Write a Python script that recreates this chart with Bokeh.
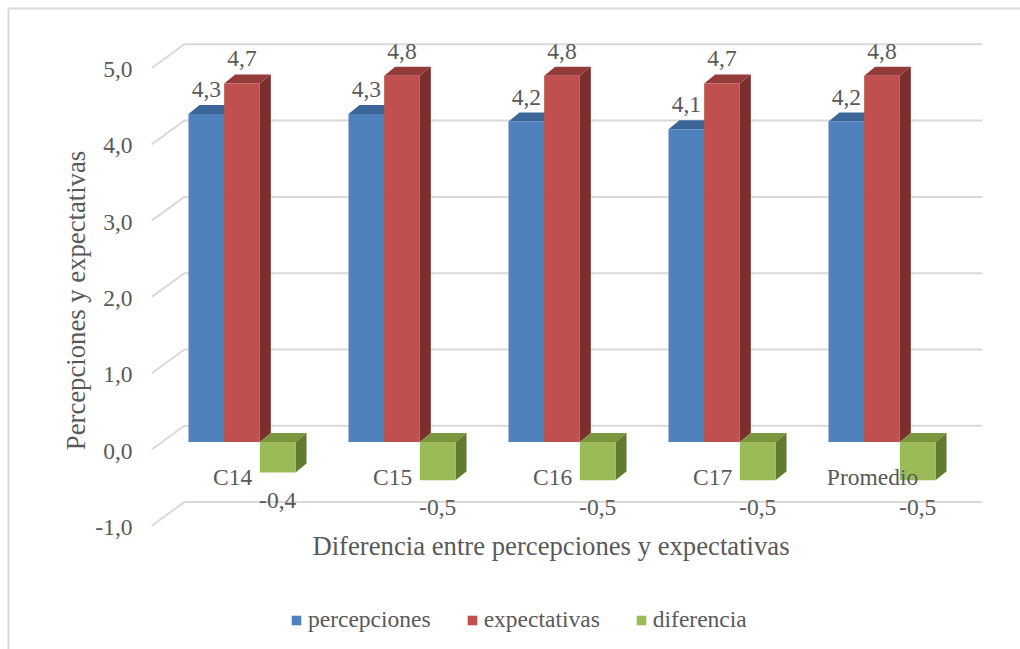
from bokeh.plotting import figure
from bokeh.models import Range1d, ColumnDataSource, Legend, LegendItem
from bokeh.core.properties import value
from bokeh.embed import file_html
from bokeh.resources import INLINE

# ---- data -------------------------------------------------------------
categories = ["C14", "C15", "C16", "C17", "Promedio"]
percepciones = [4.3, 4.3, 4.2, 4.1, 4.2]
expectativas = [4.7, 4.8, 4.8, 4.7, 4.8]
diferencia = [-0.4, -0.5, -0.5, -0.5, -0.5]
series_names = ["percepciones", "expectativas", "diferencia"]
y_ticks = [-1, 0, 1, 2, 3, 4, 5]
y_title = "Percepciones y expectativas"
x_title = "Diferencia entre percepciones y expectativas"

# ---- styling ----------------------------------------------------------
FONT_NAME = "Liberation Serif"
FONT = value(FONT_NAME)
TEXT_COLOR = "#595959"
GRID_COLOR = "#d9d9d9"
front_colors = ["#4f81bd", "#c0504d", "#9bbb59"]
top_colors = ["#3d6698", "#923b38", "#7a963f"]
side_colors = ["#30517a", "#7a2f2d", "#617b31"]

W, H = 1020, 649
PX_PER_CAT = 160.0      # pixels between category groups
PX_PER_UNIT = 76.3      # pixels per value unit
ORIGIN_X = 241.5        # pixel centre of the first group
ORIGIN_Y = 441.5        # pixel of value 0 on the bar plane

BAR_W = 0.223                       # bar width in category units
DEPTH_X = 11 / PX_PER_CAT           # 3-D depth of the bars
DEPTH_Y = 9 / PX_PER_UNIT
WALL_X0, WALL_X1 = -0.36, 4.628     # back wall extent
WALL_DY = 16.2 / PX_PER_UNIT        # back wall lift
FLOOR_X = -0.564                    # front edge of the side wall
FLOOR_DY = -7.5 / PX_PER_UNIT

x_range = Range1d(-ORIGIN_X / PX_PER_CAT, (W - ORIGIN_X) / PX_PER_CAT)
y_range = Range1d((ORIGIN_Y - H) / PX_PER_UNIT, ORIGIN_Y / PX_PER_UNIT)

p = figure(width=W, height=H, x_range=x_range, y_range=y_range,
           output_backend="svg", toolbar_location=None,
           x_axis_location=None, y_axis_location=None,
           min_border=0, min_border_left=0, min_border_right=0,
           min_border_top=0, min_border_bottom=0)
p.outline_line_color = None
p.xgrid.visible = False
p.ygrid.visible = False
p.background_fill_color = "white"
p.border_fill_color = "white"

def px_x(px):
    return (px - ORIGIN_X) / PX_PER_CAT

def px_y(py):
    return (ORIGIN_Y - py) / PX_PER_UNIT

# chart area border (top and left edges)
p.line([px_x(8), px_x(8), px_x(W + 5)], [px_y(H + 5), px_y(8), px_y(8)],
       line_color=GRID_COLOR, line_width=2)

# gridlines: side-wall diagonal plus back-wall line
p.multi_line(xs=[[FLOOR_X, WALL_X0, WALL_X1] for _ in y_ticks],
             ys=[[t + FLOOR_DY, t + WALL_DY, t + WALL_DY] for t in y_ticks],
             line_color=GRID_COLOR, line_width=2)

# tick labels on the front edge
tick_src = ColumnDataSource(dict(
    x=[px_x(132)] * len(y_ticks),
    y=[t + FLOOR_DY - 1.5 / PX_PER_UNIT for t in y_ticks],
    text=[f"{t:.1f}".replace(".", ",") for t in y_ticks]))
p.text(x="x", y="y", text="text", source=tick_src, text_font=FONT,
       text_font_size="23.5px", text_color=TEXT_COLOR,
       text_align="right", text_baseline="middle")

# ---- 3-D bars ---------------------------------------------------------
all_series = [percepciones, expectativas, diferencia]
offsets = [-BAR_W, 0.0, BAR_W]
legend_items = []
for s, vals in enumerate(all_series):
    x0 = [i + offsets[s] - BAR_W / 2 for i in range(len(categories))]
    x1 = [x + BAR_W for x in x0]
    tops = [max(v, 0) for v in vals]
    bots = [min(v, 0) for v in vals]
    top_xs = [[a, b, b + DEPTH_X, a + DEPTH_X] for a, b in zip(x0, x1)]
    top_ys = [[t, t, t + DEPTH_Y, t + DEPTH_Y] for t in tops]
    side_xs = [[b, b + DEPTH_X, b + DEPTH_X, b] for b in x1]
    side_ys = [[t, t + DEPTH_Y, bt + DEPTH_Y, bt] for t, bt in zip(tops, bots)]
    p.patches(top_xs, top_ys, fill_color=top_colors[s], line_color=None)
    p.patches(side_xs, side_ys, fill_color=side_colors[s], line_color=None)
    r = p.quad(left=x0, right=x1, top=tops, bottom=bots,
               fill_color=front_colors[s], line_color=None)
    legend_items.append(LegendItem(label=series_names[s], renderers=[r]))

    # value labels
    centers = [(a + b) / 2 for a, b in zip(x0, x1)]
    ly = [v + 0.32 if v >= 0 else v - 0.365 for v in vals]
    lab_src = ColumnDataSource(dict(
        x=centers, y=ly, text=[f"{v:.1f}".replace(".", ",") for v in vals]))
    p.text(x="x", y="y", text="text", source=lab_src, text_font=FONT,
           text_font_size="23.5px", text_color=TEXT_COLOR,
           text_align="center", text_baseline="middle")

# category labels
cat_src = ColumnDataSource(dict(
    x=[i - 0.059 for i in range(len(categories))],
    y=[px_y(476.5)] * len(categories), text=categories))
p.text(x="x", y="y", text="text", source=cat_src, text_font=FONT,
       text_font_size="23.5px", text_color=TEXT_COLOR,
       text_align="center", text_baseline="middle")

# axis titles
p.text(x=[px_x(75)], y=[px_y(300)], text=[y_title], angle=1.5707963,
       text_font=FONT, text_font_size="26.7px", text_color=TEXT_COLOR,
       text_align="center", text_baseline="middle")
p.text(x=[px_x(550.5)], y=[px_y(545)], text=[x_title],
       text_font=FONT, text_font_size="26.7px", text_color=TEXT_COLOR,
       text_align="center", text_baseline="middle")

# legend
legend = Legend(items=legend_items, orientation="horizontal",
                location=(290, 16), glyph_width=12, glyph_height=12,
                label_standoff=6, spacing=35, padding=0, margin=0,
                label_text_font=FONT_NAME, label_text_font_size="23.5px",
                label_text_color=TEXT_COLOR, border_line_color=None,
                background_fill_alpha=0)
p.add_layout(legend, "center")

open("out.html", "w").write(file_html(p, INLINE))
